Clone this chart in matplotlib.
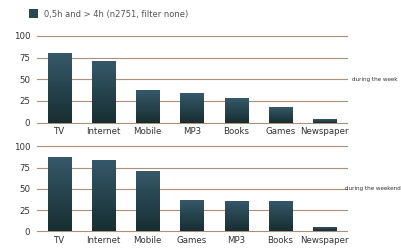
import numpy as np
import matplotlib
matplotlib.use("Agg")
import matplotlib.pyplot as plt
from matplotlib.colors import LinearSegmentedColormap

# Data
week_cats = ["TV", "Internet", "Mobile", "MP3", "Books", "Games", "Newspaper"]
week_vals = [80, 71, 37, 34, 28, 18, 4]
weekend_cats = ["TV", "Internet", "Mobile", "Games", "MP3", "Books", "Newspaper"]
weekend_vals = [87, 84, 71, 37, 36, 36, 5]
y_ticks = [0, 25, 50, 75, 100]
legend_label = "0,5h and > 4h (n2751, filter none)"

grid_color = "#ad9079"
text_color = "#333333"
grad = LinearSegmentedColormap.from_list("bar", ["#172e31", "#36596a"])


def draw_panel(ax, cats, vals, side_label, label_x):
    x = np.arange(len(cats))
    bars = ax.bar(x, vals, width=0.52, color="none", zorder=3)
    # fill each bar with a vertical gradient
    g = np.linspace(0, 1, 256).reshape(-1, 1)
    for b in bars:
        x0, w, h = b.get_x(), b.get_width(), b.get_height()
        im = ax.imshow(g, extent=[x0, x0 + w, 0, h], origin="lower",
                       cmap=grad, aspect="auto", zorder=3)
        im.set_clip_path(b)
    for t in y_ticks:
        ax.axhline(t, color=grid_color, lw=0.8, zorder=1, clip_on=False)
    ax.set_xlim(-0.5, len(cats) - 0.5)
    ax.set_ylim(0, 100)
    ax.set_yticks(y_ticks)
    ax.set_xticks(x)
    ax.set_xticklabels(cats)
    ax.tick_params(length=0, labelsize=6.2, colors=text_color, pad=3)
    ax.tick_params(axis="y", pad=5)
    for s in ax.spines.values():
        s.set_visible(False)
    ax.text(label_x, 50, side_label, transform=ax.get_yaxis_transform(),
            fontsize=4.1, color=text_color, va="center", ha="left")


fig = plt.figure(figsize=(4.01, 2.48), dpi=100)
ax1 = fig.add_axes([0.0923, 0.506, 0.773, 0.349])
ax2 = fig.add_axes([0.0923, 0.067, 0.773, 0.343])
draw_panel(ax1, week_cats, week_vals, "during the week", 1.015)
draw_panel(ax2, weekend_cats, weekend_vals, "during the weekend", 0.993)

# legend
fig.patches.append(plt.Rectangle((29 / 401, 1 - 18.3 / 248), 9 / 401, 9 / 248,
                                 transform=fig.transFigure, facecolor="#274a52",
                                 edgecolor="none"))
fig.text(44 / 401, 1 - 14 / 248, legend_label, fontsize=6.0, color="#555555",
         va="center", ha="left")

fig.savefig("out.png", dpi=100)
